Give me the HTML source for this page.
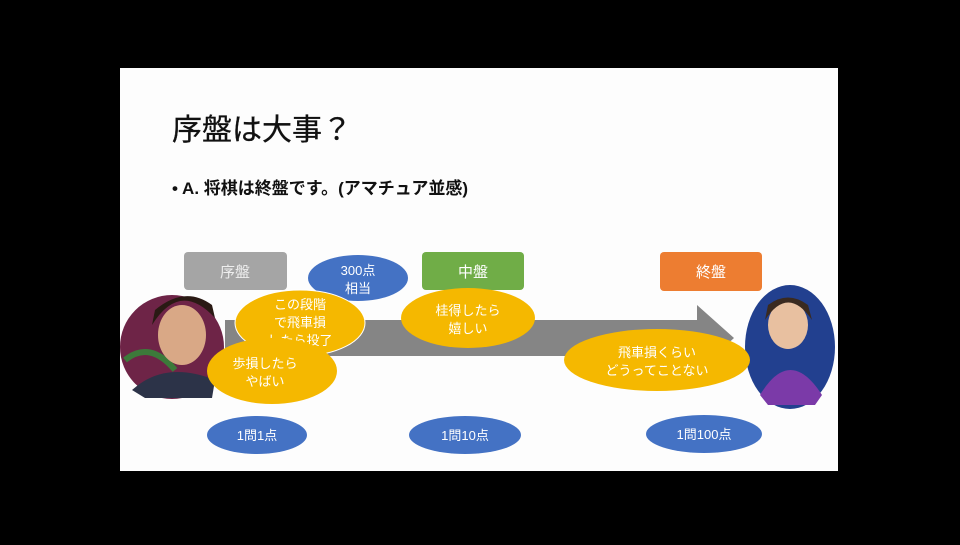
<!DOCTYPE html>
<html><head><meta charset="utf-8"><style>
body{margin:0;width:960px;height:540px;background:#000;overflow:hidden;font-family:"Liberation Sans","Noto Sans CJK JP",sans-serif}
</style></head><body>
<svg width="960" height="540" xmlns="http://www.w3.org/2000/svg" font-family="Liberation Sans, Noto Sans CJK JP, sans-serif">
<rect x="0" y="0" width="960" height="540" fill="#000"/>
<rect x="120" y="68" width="718" height="403" fill="#fdfdfd"/>
<text x="172" y="140" font-size="30" fill="#111" stroke="#111" stroke-width="0.3">序盤は大事？</text>
<text x="172" y="194" font-size="17" font-weight="bold" fill="#111">• A. 将棋は終盤です。(アマチュア並感)</text>
<polygon points="225,320 697,320 697,305 734,338 697,372 697,356 225,356" fill="#858585"/>
<rect x="184" y="252" width="103" height="38" rx="4" fill="#a5a5a5"/>
<text x="235" y="277" font-size="15" fill="#eee" text-anchor="middle">序盤</text>
<rect x="422" y="252" width="102" height="38" rx="4" fill="#70ad47"/>
<text x="473" y="277" font-size="15" fill="#fff" text-anchor="middle">中盤</text>
<rect x="660" y="252" width="102" height="39" rx="4" fill="#ed7d31"/>
<text x="711" y="277" font-size="15" fill="#fff" text-anchor="middle">終盤</text>
<ellipse cx="358" cy="278" rx="50" ry="23" fill="#4472c4"/>
<text x="358" y="275" font-size="13" fill="#fff" text-anchor="middle">300点</text>
<text x="358" y="293" font-size="13" fill="#fff" text-anchor="middle">相当</text>
<circle cx="172" cy="347" r="52" fill="#6e2447"/>
<path d="M125 360 Q150 340 175 370" stroke="#3c7a3a" stroke-width="6" fill="none"/>
<ellipse cx="182" cy="335" rx="24" ry="30" fill="#d9a886"/>
<path d="M152 325 Q180 280 215 318 L212 305 Q185 285 155 310Z" fill="#2a1a14"/>
<path d="M132 390 Q165 360 215 380 L212 398 L145 398Z" fill="#2c3348"/>
<ellipse cx="790" cy="347" rx="45" ry="62" fill="#22408f"/>
<ellipse cx="788" cy="325" rx="20" ry="24" fill="#e8c0a0"/>
<path d="M765 320 Q788 285 812 320 L808 305 Q788 290 768 305Z" fill="#3a2a20"/>
<path d="M760 395 Q790 345 822 395 L815 405 L768 405Z" fill="#7b3aa8"/>
<ellipse cx="300" cy="323" rx="65" ry="33" fill="#f5b800" stroke="#fff" stroke-width="1"/>
<text x="300" y="309" font-size="13" fill="#fff" text-anchor="middle">この段階</text>
<text x="300" y="327" font-size="13" fill="#fff" text-anchor="middle">で飛車損</text>
<text x="300" y="345" font-size="13" fill="#fff" text-anchor="middle">したら投了</text>
<ellipse cx="272" cy="371" rx="65" ry="33" fill="#f5b800"/>
<text x="265" y="368" font-size="13" fill="#fff" text-anchor="middle">歩損したら</text>
<text x="265" y="386" font-size="13" fill="#fff" text-anchor="middle">やばい</text>
<ellipse cx="468" cy="318" rx="67" ry="30" fill="#f5b800"/>
<text x="468" y="315" font-size="13" fill="#fff" text-anchor="middle">桂得したら</text>
<text x="468" y="333" font-size="13" fill="#fff" text-anchor="middle">嬉しい</text>
<ellipse cx="657" cy="360" rx="93" ry="31" fill="#f5b800"/>
<text x="657" y="357" font-size="13" fill="#fff" text-anchor="middle">飛車損くらい</text>
<text x="657" y="375" font-size="13" fill="#fff" text-anchor="middle">どうってことない</text>
<ellipse cx="257" cy="435" rx="50" ry="19" fill="#4472c4"/>
<text x="257" y="440" font-size="13" fill="#fff" text-anchor="middle">1問1点</text>
<ellipse cx="465" cy="435" rx="56" ry="19" fill="#4472c4"/>
<text x="465" y="440" font-size="13" fill="#fff" text-anchor="middle">1問10点</text>
<ellipse cx="704" cy="434" rx="58" ry="19" fill="#4472c4"/>
<text x="704" y="439" font-size="13" fill="#fff" text-anchor="middle">1問100点</text>
</svg>
</body></html>
